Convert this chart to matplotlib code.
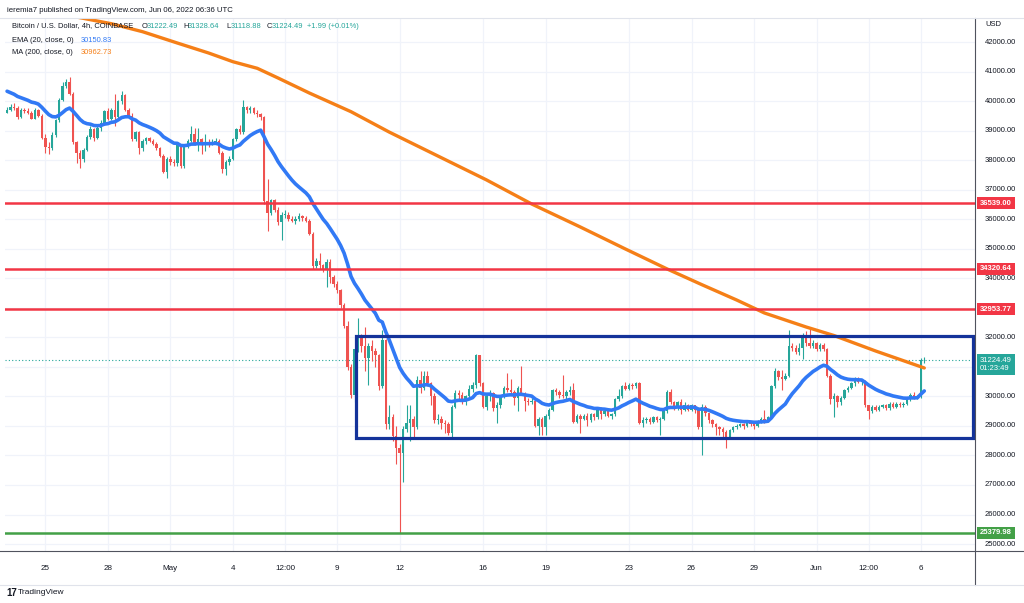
import numpy as np
import pandas as pd
import matplotlib
matplotlib.use('Agg')
import matplotlib.pyplot as plt
from matplotlib.patches import Rectangle

plt.rcParams['font.family'] = ['Liberation Sans', 'DejaVu Sans']

# 4h candles, Apr 23 04:00 -> Jun 06 04:00 (BTC/USD, Coinbase)
first_open = 39600
closes = [
    39700, 39800, 39750, 39450, 39700, 39650, 39600, 39400, 39700, 39500,
    38750, 38450, 38400, 38850, 39350, 40050, 40500, 40650, 40250, 38600,
    38250, 38050, 38350, 38800, 39050, 38750, 39100, 39250, 39650, 39400,
    39700, 39450, 40000, 40200, 39700, 39500, 38700, 38950, 38400, 38650,
    38750, 38650, 38550, 38400, 38150, 37600, 38050, 37950, 37900, 38500,
    37800, 38450, 38650, 38900, 38550, 38700, 38500, 38600, 38550, 38600,
    38650, 38250, 37700, 37950, 38050, 38700, 39050, 38950, 39800, 39700,
    39750, 39600, 39550, 39450, 36600, 36200, 36650, 36300, 35900, 36150,
    36150, 36000, 35950, 36000, 36100, 36050, 35950, 35500, 34400, 34600,
    34450, 34300, 34550, 34050, 33800, 33600, 33100, 32400, 31000, 30050,
    31600, 32000, 31700, 31300, 31700, 31550, 31400, 30350, 31900, 29050,
    29300, 28650, 28250, 28100, 28900, 29100, 29250, 28950, 30550, 30300,
    30700, 30450, 30000, 29200, 29250, 29100, 29050, 28750, 29650, 30100,
    30050, 29800, 30000, 30250, 30400, 31400, 30450, 29650, 30000, 30100,
    29600, 29700, 30000, 30300, 30200, 30150, 29950, 30300, 30100, 29850,
    29800, 29850, 29000, 29250, 28950, 29350, 29550, 30200, 30150, 30050,
    30000, 30150, 30200, 29150, 29350, 29250, 29350, 29200, 29400, 29300,
    29600, 29400, 29500, 29350, 29400, 29900, 30000, 30350, 30250, 30400,
    30350, 30450, 29100, 29200, 29250, 29150, 29300, 29200, 29250, 29500,
    30150, 29800, 29600, 29800, 29550, 29700, 29550, 29700, 29550, 28950,
    29650, 29450, 29200, 29050, 28950, 28900, 28800, 28600, 28850, 28950,
    29000, 29050, 29000, 29150, 29050, 29000, 29150, 29250, 29200, 29300,
    30350, 30850, 30650, 30600, 30700, 31700, 31650, 31500, 31650, 32050,
    31800, 31700, 31800, 31600, 31750, 31600, 30700, 29900, 30000, 29800,
    29950, 30200, 30300, 30450, 30550, 30500, 30500, 29700, 29500, 29650,
    29550, 29650, 29700, 29600, 29750, 29650, 29750, 29700, 29750, 29900,
    30050, 29950, 30000, 31222.49, 31224.49,
]
highs = [
    39800, 39900, 39950, 39850, 39750, 39780, 39750, 39650, 39750, 39720,
    39550, 38900, 38600, 38950, 39400, 40100, 40650, 40750, 40800, 40300,
    38650, 38350, 38400, 38850, 39150, 39100, 39150, 39350, 39700, 39750,
    39750, 40250, 40050, 40350, 40250, 39750, 39600, 39000, 39000, 38700,
    38800, 38800, 38700, 38600, 38450, 38200, 38100, 38150, 38050, 38550,
    38550, 38500, 38700, 39150, 39100, 39100, 38750, 38900, 38700, 38700,
    38750, 38700, 38300, 38000, 38150, 38750, 39100, 39200, 40050, 39850,
    39850, 39800, 39700, 39600, 39500, 37350, 36700, 36700, 36400, 36250,
    36300, 36250, 36100, 36100, 36200, 36150, 36100, 36000, 35550, 34700,
    34850, 34500, 34650, 34650, 34100, 33900, 33650, 33150, 32550, 31100,
    31650, 32650, 32100, 32350, 31800, 31900, 31650, 31450, 32250, 31950,
    29700, 29400, 29000, 28400, 29000, 29700, 29700, 29350, 30700, 30850,
    30850, 30850, 30500, 30100, 29400, 29350, 29200, 29150, 29700, 30200,
    30200, 30150, 30050, 30400, 30500, 31450, 31350, 30500, 30100, 30200,
    30150, 29800, 30050, 30350, 30780, 30600, 30200, 30350, 31030, 30150,
    29950, 29950, 29900, 29300, 29300, 29400, 29600, 30250, 30300, 30200,
    30730, 30200, 30350, 30450, 29400, 29400, 29400, 29450, 29450, 29450,
    29650, 29650, 29600, 29550, 29450, 29950, 30250, 30400, 30500, 30450,
    30450, 30500, 30500, 29300, 29300, 29300, 29350, 29350, 29300, 29550,
    30200, 30250, 29850, 29850, 29900, 29800, 29750, 29750, 29700, 29650,
    29750, 29700, 29450, 29250, 29100, 29000, 28950, 28850, 28900, 29000,
    29050, 29100, 29100, 29200, 29150, 29100, 29200, 29300, 29550, 29350,
    30400, 30950, 30900, 30900, 30800, 32250, 31800, 31750, 31800, 32150,
    32200, 32300, 31900, 31850, 31800, 31800, 31650, 30750, 30100, 30050,
    30000, 30250, 30350, 30500, 30650, 30650, 30600, 30550, 29700, 29700,
    29700, 29700, 29750, 29750, 29800, 29800, 29800, 29800, 29800, 29950,
    30100, 30150, 30050, 31300, 31328.64,
]
lows = [
    39580, 39650, 39700, 39400, 39420, 39600, 39550, 39380, 39380, 39450,
    38700, 38230, 38200, 38350, 38800, 39300, 40000, 40450, 40200, 38550,
    37900, 37720, 37950, 38300, 38700, 38650, 38700, 39000, 39200, 39350,
    39350, 39150, 39400, 39900, 39650, 39450, 38650, 38650, 38200, 38300,
    38550, 38600, 38500, 38350, 38100, 37550, 37380, 37850, 37800, 37800,
    37750, 37750, 38400, 38600, 38500, 38300, 38200, 38300, 38450, 38500,
    38550, 38200, 37550, 37500, 37850, 38000, 38650, 38900, 38900, 39600,
    39600, 39550, 39450, 39350, 36500, 35600, 36150, 36250, 35800, 35300,
    36050, 35950, 35900, 35850, 35950, 35950, 35900, 35450, 34300, 34350,
    34300, 34200, 33700, 33850, 33700, 33500, 33000, 32300, 30900, 29950,
    29800, 31500, 31500, 30850, 30400, 31200, 31000, 30200, 30300, 28900,
    28900, 28500, 27700, 25380, 27100, 28800, 28500, 28600, 28900, 30100,
    30200, 30350, 29700, 29100, 29050, 28900, 28750, 28700, 28600, 29600,
    29900, 29750, 29700, 29950, 30150, 30300, 30350, 29600, 29550, 29850,
    29500, 29100, 29600, 29950, 30150, 30050, 29700, 29500, 30050, 29500,
    29700, 29750, 28950, 28700, 28690, 28700, 29250, 29500, 30050, 29950,
    29950, 29900, 30050, 29100, 29100, 28750, 29200, 29000, 29150, 29200,
    29250, 29250, 29350, 29300, 29250, 29350, 29850, 29950, 30200, 30200,
    30250, 30300, 29050, 28950, 29100, 29050, 29100, 29150, 28700, 29200,
    29450, 29750, 29550, 29550, 29400, 29500, 29500, 29500, 29450, 28900,
    28020, 29350, 29100, 28950, 28700, 28700, 28600, 28250, 28550, 28800,
    28900, 28950, 28900, 28950, 29000, 28900, 28950, 29100, 29100, 29150,
    29250, 30300, 30550, 30200, 30550, 30650, 31550, 31450, 31400, 31250,
    31700, 31650, 31650, 31550, 31550, 31550, 30650, 29750, 29300, 29650,
    29700, 29900, 30150, 30250, 30350, 30450, 30400, 29650, 29250, 29450,
    29500, 29500, 29600, 29550, 29550, 29600, 29600, 29650, 29650, 29700,
    29850, 29900, 29900, 29950, 31118.88,
]

# EMA(20) seed just before the first visible candle
ema_seed = 40400
# MA(200) at a few candle positions
ma_idx = [0, 12, 21, 30, 39, 49, 58, 65, 72, 78, 87, 99, 110, 124, 138,
          151, 165, 178, 190, 200, 210, 218, 224, 230, 238, 250, 264]
ma_val = [43300, 43030, 42823, 42620, 42349, 41966, 41628, 41333, 41110, 40781,
          40273, 39640, 38950, 38140, 37330, 36515, 35736, 34990, 34314,
          33782, 33264, 32824, 32587, 32350, 32062, 31537, 30962.73]

levels_red = [36539.00, 34320.64, 32953.77]
level_green = 25379.98
box_top, box_bottom = 32050, 28600
last_price = 31224.49

tick_dates = ['2022-04-25 00:00', '2022-04-28 00:00', '2022-05-01 00:00', '2022-05-04 00:00',
              '2022-05-06 12:00', '2022-05-09 00:00', '2022-05-12 00:00', '2022-05-16 00:00',
              '2022-05-19 00:00', '2022-05-23 00:00', '2022-05-26 00:00', '2022-05-29 00:00',
              '2022-06-01 00:00', '2022-06-03 12:00', '2022-06-06 00:00']
tick_labels = ['25', '28', 'May', '4', '12:00', '9', '12', '16', '19', '23',
               '26', '29', 'Jun', '12:00', '6']

# ---- prepare
closes = np.array(closes, dtype=float)
opens = np.concatenate([[first_open], closes[:-1]])
highs = np.maximum(np.array(highs, dtype=float), np.maximum(opens, closes))
lows = np.minimum(np.array(lows, dtype=float), np.minimum(opens, closes))
n = len(closes)
x = np.arange(n)
times = pd.date_range('2022-04-23 04:00', periods=n, freq='4h')
tick_pos = times.get_indexer(pd.to_datetime(tick_dates, format='%Y-%m-%d %H:%M'))
ema = pd.Series(np.concatenate([[ema_seed], closes])).ewm(span=20, adjust=False).mean().values[1:]

UP, DOWN = '#26a69a', '#ef5350'
colors = np.where(closes >= opens, UP, DOWN)

W, H = 1024, 603
fig = plt.figure(figsize=(W / 100, H / 100), dpi=100)
fig.patch.set_facecolor('white')
ax = fig.add_axes([5 / W, 1 - 551 / H, 970 / W, 533 / H])
ax.set_xlim(-0.6, 278.6)
ax.set_ylim(24765, 42813)
for s in ax.spines.values():
    s.set_visible(False)

# grid
ax.set_yticks(np.arange(25000, 43000, 1000))
ax.set_xticks(tick_pos)
ax.set_xticklabels(tick_labels)
ax.tick_params(axis='x', length=0, pad=10, labelsize=5.8, colors='#131722')
ax.tick_params(axis='y', length=0, labelleft=False)
ax.grid(True, color='#f0f3fa', lw=0.9, zorder=0)
ax.set_axisbelow(True)

# candles
ax.vlines(x, lows, highs, colors=colors, lw=0.8, zorder=2)
body = np.maximum(np.abs(closes - opens), 18)
ax.bar(x, body, bottom=np.minimum(opens, closes), width=0.7, color=colors, lw=0, zorder=3)

# indicators
ax.plot(ma_idx, ma_val, color='#f57f17', lw=2.4, zorder=4, solid_capstyle='round')
ax.plot(x, ema, color='#3179f5', lw=2.6, zorder=4, solid_capstyle='round')

# levels
for lv in levels_red:
    ax.axhline(lv, color='#f23645', lw=1.8, zorder=5)
ax.axhline(level_green, color='#43a047', lw=1.8, zorder=5)
ax.axhline(last_price, color=UP, lw=0.8, ls=(0, (1, 2)), zorder=1)

# range box
ax.add_patch(Rectangle((100.3, box_bottom), 278.0 - 100.3, box_top - box_bottom,
                       fill=False, ec='#14339a', lw=2.3, zorder=6))

# separators
fig.add_artist(plt.Line2D([975 / W, 975 / W], [1 - 18 / H, 1 - 585 / H], color='#50535e', lw=0.8))
fig.add_artist(plt.Line2D([0, 1], [1 - 551 / H, 1 - 551 / H], color='#50535e', lw=0.8))
fig.add_artist(plt.Line2D([0, 1], [1 - 18 / H, 1 - 18 / H], color='#e0e3eb', lw=0.8))
fig.add_artist(plt.Line2D([0, 1], [1 - 585 / H, 1 - 585 / H], color='#e0e3eb', lw=0.8))

# right price scale
ytr = ax.get_yaxis_transform()
lx = 1 + 10 / 970
for p in range(25000, 43000, 1000):
    if p in (31000, 33000):
        continue
    ax.text(lx, p, f'{p:.2f}', transform=ytr, fontsize=5.5, color='#131722',
            va='center', ha='left', clip_on=False)
fig.text(985 / W, 1 - 25 / H, 'USD', fontsize=5.5, color='#131722', va='center')

bx = 1 + 5 / 970
for lv in levels_red:
    ax.text(bx, lv, f'{lv:.2f}', transform=ytr, fontsize=5.5, color='white', va='center',
            ha='left', clip_on=False, fontweight='bold',
            bbox=dict(boxstyle='square,pad=0.35', fc='#f23645', ec='none'))
ax.text(bx, level_green, f'{level_green:.2f}', transform=ytr, fontsize=5.5, color='white',
        va='center', ha='left', clip_on=False, fontweight='bold',
        bbox=dict(boxstyle='square,pad=0.35', fc='#43a047', ec='none'))
ax.text(bx, last_price - 150, f'{last_price:.2f}\n01:23:49', transform=ytr, fontsize=5.5,
        color='white', va='center', ha='left', clip_on=False, linespacing=1.25,
        bbox=dict(boxstyle='square,pad=0.35', fc=UP, ec='none'))

# header texts
fs = 5.4
fig.text(7 / W, 1 - 10 / H, 'ieremia7 published on TradingView.com, Jun 06, 2022 06:36 UTC',
         fontsize=5.6, color='#131722', va='center')
row = 1 - 26 / H
fig.text(12 / W, row, 'Bitcoin / U.S. Dollar, 4h, COINBASE', fontsize=fs, color='#131722', va='center')
for xp, lab, val in [(142, 'O', '31222.49'), (183, 'H', '31328.64'),
                     (226, 'L', '31118.88'), (267, 'C', '31224.49')]:
    fig.text(xp / W, row, lab, fontsize=fs, color='#131722', va='center')
    fig.text((xp + 5) / W, row, val, fontsize=fs, color=UP, va='center')
fig.text(307 / W, row, '+1.99 (+0.01%)', fontsize=fs, color=UP, va='center')
fig.text(12 / W, 1 - 40 / H, 'EMA (20, close, 0)', fontsize=fs, color='#131722', va='center')
fig.text(81 / W, 1 - 40 / H, '30150.83', fontsize=fs, color='#3179f5', va='center')
fig.text(12 / W, 1 - 52 / H, 'MA (200, close, 0)', fontsize=fs, color='#131722', va='center')
fig.text(81 / W, 1 - 52 / H, '30962.73', fontsize=fs, color='#f57f17', va='center')

# footer logo
fig.text(6 / W, 1 - 593 / H, '17', fontsize=7, color='#131722', fontweight='bold', va='center')
fig.text(18 / W, 1 - 593 / H, 'TradingView', fontsize=6, color='#131722', va='center')

fig.savefig('out.png', dpi=100)
